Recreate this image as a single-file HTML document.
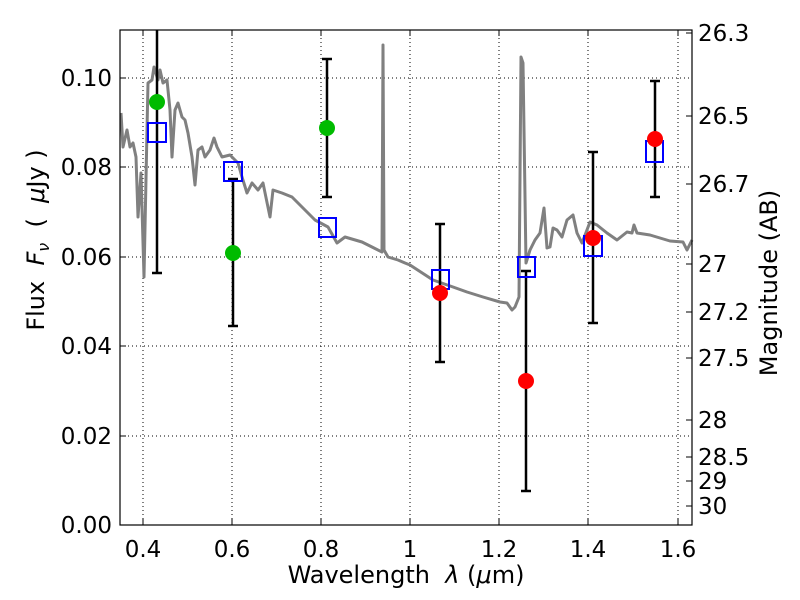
<!DOCTYPE html>
<html><head><style>body{margin:0;background:#fff}svg{display:block}text{font-family:"DejaVu Sans","Liberation Sans",sans-serif;fill:#000;white-space:pre}</style></head><body>
<svg width="800" height="600" viewBox="0 0 800 600">
<g stroke="#000" stroke-width="1" stroke-dasharray="1,3">
<line x1="143" y1="30" x2="143" y2="525"/><line x1="232" y1="30" x2="232" y2="525"/><line x1="321" y1="30" x2="321" y2="525"/><line x1="410" y1="30" x2="410" y2="525"/><line x1="499" y1="30" x2="499" y2="525"/><line x1="588" y1="30" x2="588" y2="525"/><line x1="678" y1="30" x2="678" y2="525"/>
<line x1="120" y1="78" x2="692" y2="78"/><line x1="120" y1="167" x2="692" y2="167"/><line x1="120" y1="257" x2="692" y2="257"/><line x1="120" y1="346" x2="692" y2="346"/><line x1="120" y1="436" x2="692" y2="436"/>
</g>
<polyline fill="none" stroke="#808080" stroke-width="3" stroke-linejoin="round" points="121,113 123,147 127,130 130,147 133,143 136,157 138,217 141,173 144,277 147,130 148,83 152,80 154,67 158,80 160,70 163,83 167,80 170,110 172,157 175,110 178,103 182,117 185,120 188,133 192,157 195,185 198,150 202,147 205,157 210,150 214,138 217,147 222,157 230,155 238,163 242,177 247,193 252,183 258,190 263,183 270,217 273,190 282,193 292,197 302,207 315,220 328,227 337,243 345,237 362,242 372,247 382,252 383,45 384,250 388,257 398,260 405,263 410,265 433,280 453,287 467,292 483,297 500,302 507,303 512,310 515,307 519,297 521,57 523,63 526,263 530,250 535,240 540,233 544,208 547,248 550,247 553,228 557,230 562,237 567,220 573,215 577,233 582,243 590,222 597,225 607,233 617,240 627,232 632,233 634,225 637,233 650,235 660,238 670,241 683,242 687,250 692,240"/>
<g stroke="#000" stroke-width="2.5">
<line x1="157" y1="30" x2="157" y2="273"/><line x1="152" y1="273" x2="162" y2="273"/>
<line x1="233" y1="179" x2="233" y2="326"/><line x1="228" y1="179" x2="238" y2="179"/><line x1="228" y1="326" x2="238" y2="326"/>
<line x1="327" y1="59" x2="327" y2="197"/><line x1="322" y1="59" x2="332" y2="59"/><line x1="322" y1="197" x2="332" y2="197"/>
<line x1="440" y1="224" x2="440" y2="362"/><line x1="435" y1="224" x2="445" y2="224"/><line x1="435" y1="362" x2="445" y2="362"/>
<line x1="526" y1="271" x2="526" y2="491"/><line x1="521" y1="271" x2="531" y2="271"/><line x1="521" y1="491" x2="531" y2="491"/>
<line x1="593" y1="152" x2="593" y2="323"/><line x1="588" y1="152" x2="598" y2="152"/><line x1="588" y1="323" x2="598" y2="323"/>
<line x1="655" y1="81" x2="655" y2="197"/><line x1="650" y1="81" x2="660" y2="81"/><line x1="650" y1="197" x2="660" y2="197"/>
</g>
<g fill="none" stroke="#0000ff" stroke-width="2">
<rect x="148" y="123" width="18" height="19"/><rect x="224" y="162" width="18" height="19"/><rect x="319" y="218" width="17" height="19"/><rect x="432" y="270" width="17" height="19"/><rect x="518" y="257" width="17" height="20"/><rect x="584" y="236" width="18" height="20"/><rect x="646" y="141" width="17" height="21"/>
</g>
<g fill="#00bb00"><circle cx="157" cy="102" r="8"/><circle cx="233" cy="253" r="8"/><circle cx="327" cy="128" r="8"/></g>
<g fill="#ff0000"><circle cx="440" cy="293" r="8"/><circle cx="526" cy="381" r="8"/><circle cx="593" cy="238" r="8"/><circle cx="655" cy="139" r="8"/></g>
<rect x="120" y="30" width="572" height="495" fill="none" stroke="#000" stroke-width="1.2"/>
<g stroke="#000" stroke-width="1">
<path d="M143 525v-6M232 525v-6M321 525v-6M410 525v-6M499 525v-6M588 525v-6M678 525v-6M143 30v6M232 30v6M321 30v6M410 30v6M499 30v6M588 30v6M678 30v6"/>
<path d="M120 78h6M120 167h6M120 257h6M120 346h6M120 436h6M120 525h6"/>
<path d="M692 33h-6M692 116h-6M692 184h-6M692 264h-6M692 312h-6M692 358h-6M692 420h-6M692 457h-6M692 481h-6M692 506h-6"/>
</g>
<g font-size="23" text-anchor="end">
<text x="112" y="86">0.10</text><text x="112" y="175">0.08</text><text x="112" y="265">0.06</text><text x="112" y="354">0.04</text><text x="112" y="444">0.02</text><text x="112" y="533">0.00</text>
</g>
<g font-size="23" text-anchor="middle">
<text x="143" y="557">0.4</text><text x="232" y="557">0.6</text><text x="321" y="557">0.8</text><text x="410" y="557">1</text><text x="499" y="557">1.2</text><text x="588" y="557">1.4</text><text x="678" y="557">1.6</text>
</g>
<g font-size="23">
<text x="698" y="41">26.3</text><text x="698" y="124">26.5</text><text x="698" y="192">26.7</text><text x="698" y="272">27</text><text x="698" y="320">27.2</text><text x="698" y="366">27.5</text><text x="698" y="428">28</text><text x="698" y="465">28.5</text><text x="698" y="489">29</text><text x="698" y="514">30</text>
</g>
<text x="406" y="583" font-size="24" text-anchor="middle">Wavelength  <tspan font-style="italic">λ</tspan> (<tspan font-style="italic">μ</tspan>m)</text>
<text transform="translate(44,240) rotate(-90)" font-size="24" text-anchor="middle">Flux  <tspan font-style="italic">F<tspan font-size="16" dy="5">ν</tspan></tspan><tspan dy="-5">  (  </tspan><tspan font-style="italic">μ</tspan>Jy )</text>
<text transform="translate(777,283) rotate(-90)" font-size="24" text-anchor="middle">Magnitude (AB)</text>
</svg>
</body></html>
